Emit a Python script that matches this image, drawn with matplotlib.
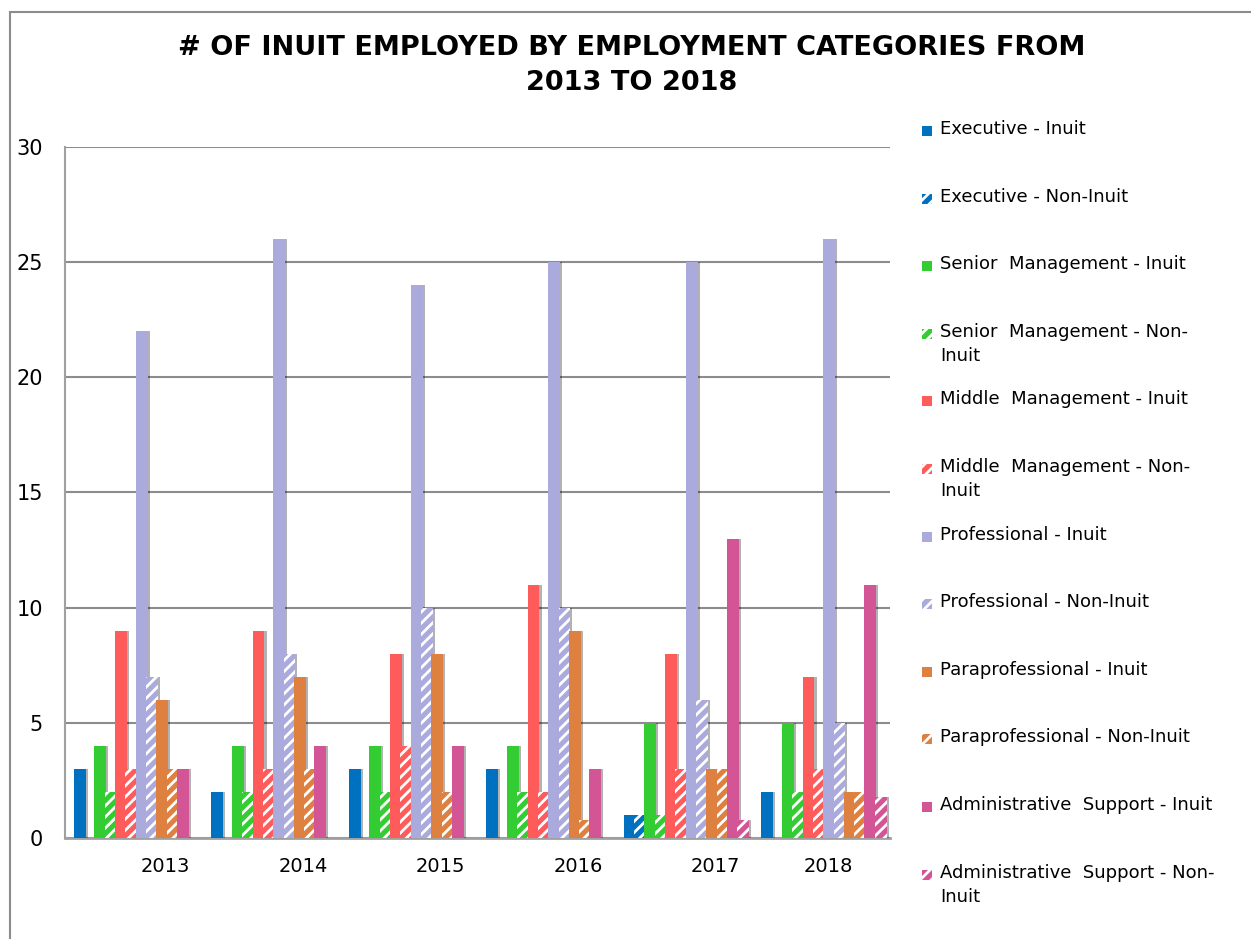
import numpy as np
import matplotlib
matplotlib.use("Agg")
import matplotlib.pyplot as plt
from matplotlib.patches import Rectangle

# datos
years = ['2013', '2014', '2015', '2016', '2017', '2018']

series = [
    'Executive - Inuit',
    'Executive - Non-Inuit',
    'Senior  Management - Inuit',
    'Senior  Management - Non-\nInuit',
    'Middle  Management - Inuit',
    'Middle  Management - Non-\nInuit',
    'Professional - Inuit',
    'Professional - Non-Inuit',
    'Paraprofessional - Inuit',
    'Paraprofessional - Non-Inuit',
    'Administrative  Support - Inuit',
    'Administrative  Support - Non-\nInuit',
]

exec_inuit = [3, 2, 3, 3, 1, 2]
exec_non = [0, 0, 0, 0, 1, 0]
senior_inuit = [4, 4, 4, 4, 5, 5]
senior_non = [2, 2, 2, 2, 1, 2]
middle_inuit = [9, 9, 8, 11, 8, 7]
middle_non = [3, 3, 4, 2, 3, 3]
prof_inuit = [22, 26, 24, 25, 25, 26]
prof_non = [7, 8, 10, 10, 6, 5]
para_inuit = [6, 7, 8, 9, 3, 2]
para_non = [3, 3, 2, 0.8, 3, 2]
admin_inuit = [3, 4, 4, 3, 13, 11]
admin_non = [0, 0, 0, 0, 0.8, 1.8]

valores = [exec_inuit, exec_non, senior_inuit, senior_non, middle_inuit, middle_non,
           prof_inuit, prof_non, para_inuit, para_non, admin_inuit, admin_non]

colores_base = ['#0070C0', '#33CC33', '#FF5B5B', '#AAAADD', '#DD8040', '#D45595']

plt.rcParams['font.family'] = ['DejaVu Sans']
plt.rcParams['hatch.linewidth'] = 2.0

fig = plt.figure(figsize=(12.51, 9.39), dpi=100)

# marco gris de la figura
fig.patches.append(Rectangle((10 / 1251, -0.1), 1.2, (939 - 12) / 939 + 0.1,
                             transform=fig.transFigure, fill=False,
                             edgecolor='#8c8c8c', linewidth=1.5))

ax = fig.add_axes([65 / 1251, (939 - 838) / 939, (890 - 65) / 1251, (838 - 147) / 939])

x = np.arange(len(years))
n = len(valores)
ancho = 0.9 / n
for i, vals in enumerate(valores):
    col = colores_base[i // 2]
    pos = x - 0.45 + ancho * (i + 0.5) + 0.02
    if i % 2 == 0:
        ax.bar(pos, vals, width=ancho * 1.15, color=col, edgecolor='none', zorder=3 + i * 0.01)
    else:
        ax.bar(pos, vals, width=ancho * 1.15, color=col, edgecolor='white', hatch='///',
               linewidth=0, zorder=3 + i * 0.01)
    # cara lateral oscura (efecto 3D)
    ax.bar(pos + ancho * 0.575 + ancho * 0.1, vals, width=ancho * 0.2, color='black',
           alpha=0.3, edgecolor='none', zorder=2.9 + i * 0.01)

ax.set_xlim(-0.5, 5.5)
ax.set_ylim(0, 30)
ax.set_yticks([0, 5, 10, 15, 20, 25, 30])
# las etiquetas de los anios quedan corridas a la derecha por la perspectiva
desfase = [0.23, 0.23, 0.23, 0.23, 0.23, 0.05]
ax.set_xticks(x + np.array(desfase))
ax.set_xticklabels(years)
ax.yaxis.grid(True, color='#8c8c8c', linewidth=1.5)
ax.set_axisbelow(True)
for s in ['top', 'right']:
    ax.spines[s].set_visible(False)
ax.spines['left'].set_color('#a0a0a0')
ax.spines['left'].set_linewidth(1.5)
ax.spines['bottom'].set_color('#a0a0a0')
ax.spines['bottom'].set_linewidth(2)
ax.tick_params(length=0)
ax.tick_params(axis='y', pad=16, labelsize=15)
ax.tick_params(axis='x', pad=14, labelsize=14)

fig.text(0.505, 0.963, '# OF INUIT EMPLOYED BY EMPLOYMENT CATEGORIES FROM\n2013 TO 2018',
         ha='center', va='top', fontsize=19.5, fontweight='bold', linespacing=1.45)

# leyenda manual
y0 = 131
paso = 67.6
for i, nombre in enumerate(series):
    col = colores_base[i // 2]
    yc = y0 + paso * i
    if i % 2 == 0:
        r = Rectangle((922 / 1251, 1 - (yc + 5) / 939), 10 / 1251, 10 / 939,
                      transform=fig.transFigure, facecolor=col, edgecolor='none')
    else:
        r = Rectangle((922 / 1251, 1 - (yc + 5) / 939), 10 / 1251, 10 / 939,
                      transform=fig.transFigure, facecolor=col, edgecolor='white',
                      hatch='///', linewidth=0)
    fig.patches.append(r)
    fig.text(940 / 1251, 1 - (yc - 11) / 939, nombre, ha='left', va='top',
             fontsize=13, linespacing=1.45)

fig.savefig('out.png', dpi=100)
